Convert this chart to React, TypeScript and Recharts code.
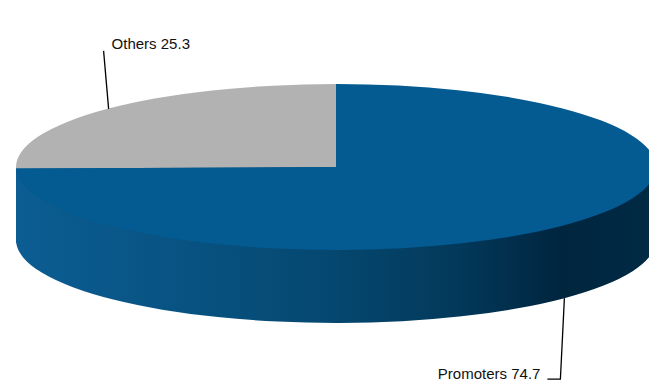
import React from 'react';
import { PieChart, Pie, Cell } from 'recharts';

const categories = ['Others', 'Promoters'];
const shares = [25.3, 74.7];
const topColors = ['#b2b2b2', '#035b92'];
const sideColors = ['url(#sideGrad)', 'url(#sideGrad)'];

const data = categories.map((name, i) => ({ name, value: shares[i] }));

const W = 649;
const H = 381;
const CX = 336;
const CY = 167;
const RX = 320;
const RY = 83;
const DEPTH = 73;
const SY = RY / RX;

const css = `
body { margin: 0; }
.pie-top:not(.pie-top *) { transform: translate(0px, ${CY}px) scale(1, ${SY}) translate(0px, ${-CY}px); }
.pie-bottom:not(.pie-bottom *) { transform: translate(0px, ${CY + DEPTH}px) scale(1, ${SY}) translate(0px, ${-CY}px); }
`;

const FONT = "'Liberation Sans', Arial, Helvetica, sans-serif";

const renderLabel = (props: any) => {
  const { cx, cy, midAngle, name, value } = props;
  const rad = (midAngle * Math.PI) / 180;
  const px = cx + RX * Math.cos(rad);
  const py = cy - RY * Math.sin(rad);
  const txt = `${name} ${value}`;
  if (Math.sin(rad) >= 0) {
    const tx = px - 4;
    const ty = py - 58;
    return (
      <g>
        <line x1={px + 1} y1={py} x2={tx} y2={ty} stroke="#000" strokeWidth={1.3} />
        <text x={tx + 8} y={ty - 2} fontSize={15} fontFamily={FONT} fill="#111" textAnchor="start">
          {txt}
        </text>
      </g>
    );
  }
  const by = py + DEPTH;
  const tx = px - 4;
  const ty = by + 81;
  return (
    <g>
      <polyline points={`${px},${by} ${tx},${ty} ${tx - 13},${ty}`} fill="none" stroke="#000" strokeWidth={1.3} />
      <text x={tx - 20} y={ty} fontSize={15} fontFamily={FONT} fill="#111" textAnchor="end">
        {txt}
      </text>
    </g>
  );
};

export default function App() {
  return (
    <div style={{ width: W, height: H, background: '#fff' }}>
      <style>{css}</style>
      <svg width={0} height={0} style={{ position: 'absolute' }}>
        <defs>
          <linearGradient id="sideGrad" gradientUnits="userSpaceOnUse" x1={CX - RX} y1={0} x2={CX + RX} y2={0}>
            <stop offset="0" stopColor="#0c5d93" />
            <stop offset="0.3" stopColor="#07517f" />
            <stop offset="0.5" stopColor="#05476f" />
            <stop offset="0.68" stopColor="#033a5c" />
            <stop offset="0.85" stopColor="#00253f" />
            <stop offset="1" stopColor="#002a44" />
          </linearGradient>
        </defs>
      </svg>
      <PieChart width={W} height={H} margin={{ top: 0, right: 0, bottom: 0, left: 0 }}>
        <rect x={CX - RX} y={CY} width={RX * 2} height={DEPTH + 3} fill="url(#sideGrad)" />
        <Pie
          className="pie-bottom"
          data={data}
          dataKey="value"
          nameKey="name"
          cx={CX}
          cy={CY}
          outerRadius={RX}
          startAngle={90}
          endAngle={450}
          stroke="none"
          isAnimationActive={false}
        >
          {data.map((d, i) => (
            <Cell key={d.name} fill={sideColors[i]} stroke="none" />
          ))}
        </Pie>
        <Pie
          className="pie-top"
          data={data}
          dataKey="value"
          nameKey="name"
          cx={CX}
          cy={CY}
          outerRadius={RX}
          startAngle={90}
          endAngle={450}
          stroke="none"
          isAnimationActive={false}
        >
          {data.map((d, i) => (
            <Cell key={d.name} fill={topColors[i]} stroke="none" />
          ))}
        </Pie>
        <Pie
          data={data}
          dataKey="value"
          nameKey="name"
          cx={CX}
          cy={CY}
          outerRadius={RX}
          startAngle={90}
          endAngle={450}
          fill="none"
          stroke="none"
          label={renderLabel}
          labelLine={false}
          isAnimationActive={false}
        >
          {data.map((d) => (
            <Cell key={d.name} fill="none" stroke="none" />
          ))}
        </Pie>
      </PieChart>
    </div>
  );
}
